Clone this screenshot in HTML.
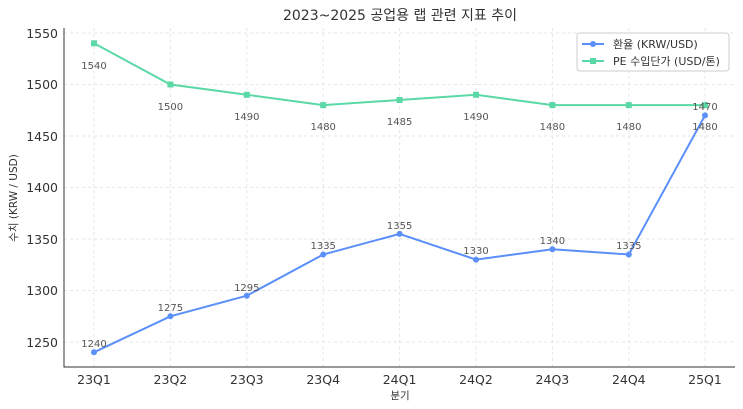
<!DOCTYPE html><html><head><meta charset="utf-8"><style>body{margin:0;background:#fff}svg{display:block;font-family:"DejaVu Sans","Noto Sans CJK KR",sans-serif}</style></head><body>
<svg width="743" height="409" viewBox="0 0 743 409">
<text x="400" y="20" font-size="14" fill="#333" text-anchor="middle">2023~2025 공업용 랩 관련 지표 추이</text>
<g stroke="#e6e6e6" stroke-dasharray="3,3" stroke-width="1">
<line x1="64" x2="735" y1="33" y2="33"/><line x1="64" x2="735" y1="84.5" y2="84.5"/><line x1="64" x2="735" y1="136" y2="136"/><line x1="64" x2="735" y1="187.5" y2="187.5"/><line x1="64" x2="735" y1="239" y2="239"/><line x1="64" x2="735" y1="290.5" y2="290.5"/><line x1="64" x2="735" y1="342" y2="342"/>
<line y1="28" y2="367" x1="94" x2="94"/><line y1="28" y2="367" x1="170.4" x2="170.4"/><line y1="28" y2="367" x1="246.8" x2="246.8"/><line y1="28" y2="367" x1="323.2" x2="323.2"/><line y1="28" y2="367" x1="399.6" x2="399.6"/><line y1="28" y2="367" x1="476" x2="476"/><line y1="28" y2="367" x1="552.4" x2="552.4"/><line y1="28" y2="367" x1="628.8" x2="628.8"/><line y1="28" y2="367" x1="705" x2="705"/>
</g>
<polyline fill="none" stroke="#333" stroke-width="1" points="64,28 64,367 735,367"/>
<g font-size="12.5" fill="#333" text-anchor="end">
<text x="58" y="38">1550</text><text x="58" y="89">1500</text><text x="58" y="141">1450</text><text x="58" y="192">1400</text><text x="58" y="244">1350</text><text x="58" y="295">1300</text><text x="58" y="347">1250</text></g>
<g font-size="12.5" fill="#333" text-anchor="middle">
<text x="94" y="384">23Q1</text><text x="170.4" y="384">23Q2</text><text x="246.8" y="384">23Q3</text><text x="323.2" y="384">23Q4</text><text x="399.6" y="384">24Q1</text><text x="476" y="384">24Q2</text><text x="552.4" y="384">24Q3</text><text x="628.8" y="384">24Q4</text><text x="705" y="384">25Q1</text></g>
<text x="400" y="399" font-size="10.5" fill="#333" text-anchor="middle">분기</text>
<text transform="translate(17,198) rotate(-90)" font-size="10.5" fill="#333" text-anchor="middle">수치 (KRW / USD)</text>
<polyline fill="none" stroke="#5b8ff9" stroke-width="2" points="94,352.3 170.4,316.3 246.8,295.7 323.2,254.5 399.6,233.9 476,259.6 552.4,249.3 628.8,254.5 705,115.4"/>
<g fill="#5b8ff9"><circle cx="94" cy="352.3" r="3"/><circle cx="170.4" cy="316.3" r="3"/><circle cx="246.8" cy="295.7" r="3"/><circle cx="323.2" cy="254.5" r="3"/><circle cx="399.6" cy="233.9" r="3"/><circle cx="476" cy="259.6" r="3"/><circle cx="552.4" cy="249.3" r="3"/><circle cx="628.8" cy="254.5" r="3"/><circle cx="705" cy="115.4" r="3"/></g>
<polyline fill="none" stroke="#5ad8a6" stroke-width="2" points="94,43.3 170.4,84.5 246.8,94.8 323.2,105.1 399.6,100 476,94.8 552.4,105.1 628.8,105.1 705,105.1"/>
<g fill="#5ad8a6"><rect x="91" y="40.3" width="6" height="6"/><rect x="167.4" y="81.5" width="6" height="6"/><rect x="243.8" y="91.8" width="6" height="6"/><rect x="320.2" y="102.1" width="6" height="6"/><rect x="396.6" y="97" width="6" height="6"/><rect x="473" y="91.8" width="6" height="6"/><rect x="549.4" y="102.1" width="6" height="6"/><rect x="625.8" y="102.1" width="6" height="6"/><rect x="702" y="102.1" width="6" height="6"/></g>
<g font-size="10" fill="#555" text-anchor="middle">
<text x="94" y="347">1240</text><text x="170.4" y="311">1275</text><text x="246.8" y="291">1295</text><text x="323.2" y="249">1335</text><text x="399.6" y="229">1355</text><text x="476" y="254">1330</text><text x="552.4" y="244">1340</text><text x="628.8" y="249">1335</text><text x="705" y="110">1470</text>
<text x="94" y="69">1540</text><text x="170.4" y="110">1500</text><text x="246.8" y="120">1490</text><text x="323.2" y="130">1480</text><text x="399.6" y="125">1485</text><text x="476" y="120">1490</text><text x="552.4" y="130">1480</text><text x="628.8" y="130">1480</text><text x="705" y="130">1480</text></g>
<rect x="577" y="33" width="152" height="38" rx="3" fill="#fff" stroke="#ccc"/>
<line x1="582" x2="604" y1="44" y2="44" stroke="#5b8ff9" stroke-width="2"/><circle cx="593" cy="44" r="3" fill="#5b8ff9"/>
<text x="613" y="48" font-size="11" fill="#333">환율 (KRW/USD)</text>
<line x1="582" x2="604" y1="61" y2="61" stroke="#5ad8a6" stroke-width="2"/><rect x="590" y="58" width="6" height="6" fill="#5ad8a6"/>
<text x="613" y="65" font-size="11" fill="#333">PE 수입단가 (USD/톤)</text>
</svg></body></html>
